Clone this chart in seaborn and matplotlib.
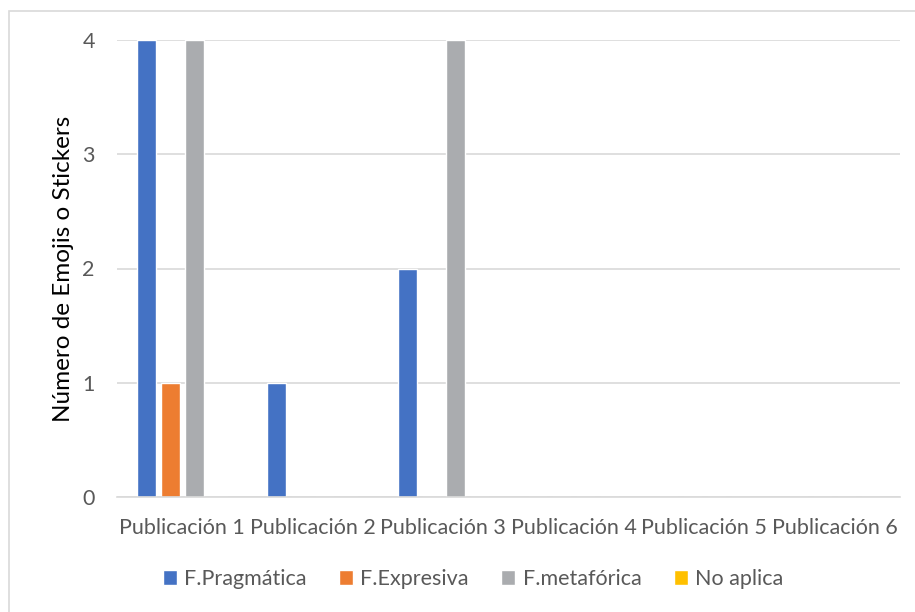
import matplotlib
matplotlib.use("Agg")
import matplotlib.pyplot as plt
import seaborn as sns
import pandas as pd
from matplotlib.patches import Rectangle

categories = ["Publicación 1", "Publicación 2", "Publicación 3",
              "Publicación 4", "Publicación 5", "Publicación 6"]
series_names = ["F.Pragmática", "F.Expresiva", "F.metafórica", "No aplica"]
pragmatica = [4, 1, 2, 0, 0, 0]
expresiva = [1, 0, 0, 0, 0, 0]
metaforica = [4, 0, 4, 0, 0, 0]
no_aplica = [0, 0, 0, 0, 0, 0]
colors = ["#4472C4", "#ED7D31", "#AAACAF", "#FFC000"]
y_label = "Número de Emojis o Stickers"
y_ticks = [0, 1, 2, 3, 4]

rows = []
for name, vals in zip(series_names, [pragmatica, expresiva, metaforica, no_aplica]):
    for c, v in zip(categories, vals):
        rows.append({"cat": c, "serie": name, "val": v})
df = pd.DataFrame(rows)

sns.set_theme(style="white")
plt.rcParams['font.family'] = ['Lato', 'DejaVu Sans']

fig = plt.figure(figsize=(9.15, 6.12), dpi=100)
ax = fig.add_axes([117/915, 1-497/612, (900-117)/915, (497-40)/612])

sns.barplot(data=df, x="cat", y="val", hue="serie", hue_order=series_names,
            order=categories, palette=colors, width=0.735, gap=0.19,
            ax=ax, legend=True, saturation=1)

ax.set_ylim(0, 4)
ax.set_xlim(-0.5, 5.5)
ax.set_yticks(y_ticks)
ax.yaxis.grid(True, color="#D9D9D9", linewidth=1.2)
ax.set_axisbelow(True)
for s in ["top", "right", "left"]:
    ax.spines[s].set_visible(False)
ax.spines["bottom"].set_color("#D9D9D9")
ax.spines["bottom"].set_linewidth(1.2)
ax.tick_params(axis="both", length=0, labelsize=15.5, labelcolor="#595959")
ax.tick_params(axis="x", pad=15)
ax.tick_params(axis="y", pad=16)
ax.set_xlabel("")
ax.set_ylabel(y_label, fontsize=17.5, color="#000000", labelpad=6)

ax.legend(loc="center", bbox_to_anchor=((473-117)/783, 1-(579-40)/457), ncol=4,
          frameon=False, fontsize=15.5, handlelength=0.65, handleheight=0.65,
          handletextpad=0.35, columnspacing=1.5, labelcolor="#595959")

fig.patches.append(Rectangle((9/915, -0.1), 1.2, 1-11/612+0.1,
                             transform=fig.transFigure, fill=False,
                             edgecolor="#D9D9D9", linewidth=1.2, zorder=-1))

fig.savefig("out.png", dpi=100)
